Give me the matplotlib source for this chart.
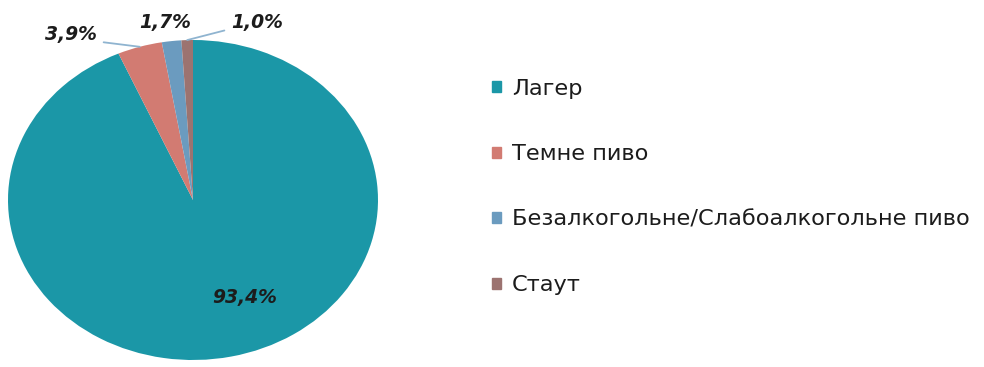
import numpy as np
import matplotlib
matplotlib.use("Agg")
import matplotlib.pyplot as plt

# Beer market shares
categories = ["Лагер", "Темне пиво", "Безалкогольне/Слабоалкогольне пиво", "Стаут"]
shares = [93.4, 3.9, 1.7, 1.0]
share_labels = ["93,4%", "3,9%", "1,7%", "1,0%"]
colors = ["#1b97a7", "#d27b72", "#6b9bbf", "#9c7370"]

plt.rcParams['font.family'] = ['DejaVu Sans']

W, H = 984, 367
fig = plt.figure(figsize=(W / 100, H / 100), dpi=100)

# pie is slightly wider than tall in the reference
ax = fig.add_axes([8 / W, (H - 360) / H, 370 / W, 320 / H])
wedges, _ = ax.pie(shares, colors=colors, startangle=90, counterclock=False,
                   radius=1.0, wedgeprops=dict(linewidth=0))
ax.set_aspect('auto')
ax.set_xlim(-1, 1)
ax.set_ylim(-1, 1)

# (offset in pixels from the wedge rim point, horizontal alignment, leader line?)
placement = [((14, 59), 'center', False),
             ((-43, 12), 'right', True),
             ((-6, 19), 'center', False),
             ((44, 18), 'left', True)]
label_style = dict(fontsize=13.5, fontweight='bold', fontstyle='italic', color='#1c1c1c')
for w, lab, (off, ha, line) in zip(wedges, share_labels, placement):
    mid = np.deg2rad((w.theta1 + w.theta2) / 2)
    xy = (np.cos(mid), np.sin(mid))
    arrow = None
    if line:
        arrow = dict(arrowstyle='-', color='#8fb4d0', lw=1.3, shrinkA=3, shrinkB=0,
                     relpos=(1, 0.15) if ha == 'right' else (0, 0.15))
    ax.annotate(lab, xy=xy, xytext=off, textcoords='offset pixels',
                ha=ha, va='center', annotation_clip=False, arrowprops=arrow,
                **label_style)

# legend
handles = [plt.Rectangle((0, 0), 1, 1, color=c) for c in colors]
fig.legend(handles, categories, loc='upper left', bbox_to_anchor=(492 / W, 1 - 79 / H),
           frameon=False, fontsize=16.2, handlelength=0.38, handleheight=0.38,
           handletextpad=0.5, labelspacing=2.02, borderpad=0, borderaxespad=0,
           labelcolor='#1c1c1c')

fig.savefig("out.png", dpi=100)
